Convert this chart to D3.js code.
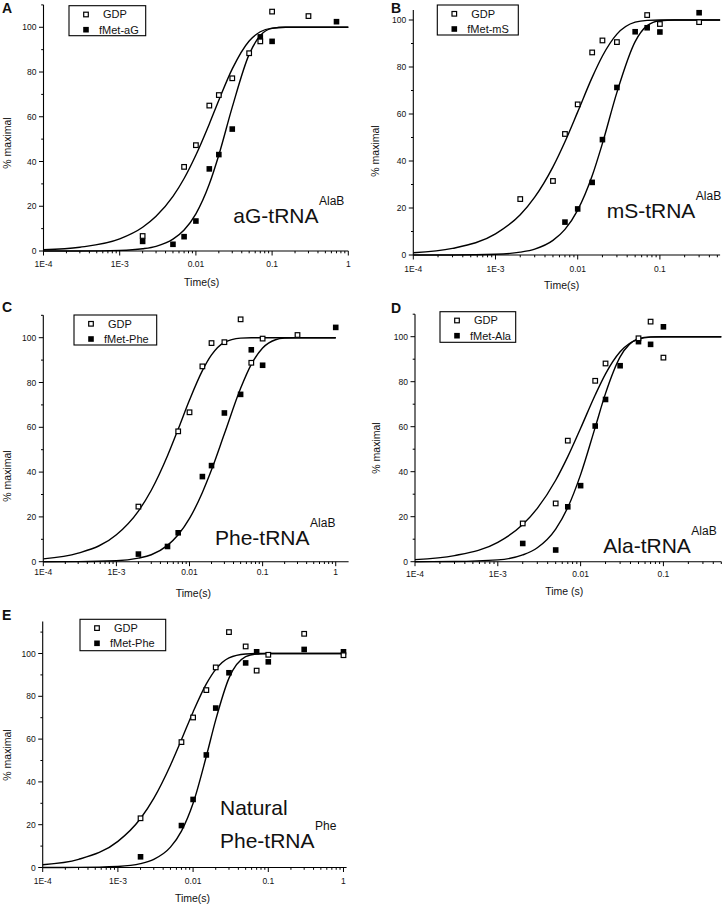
<!DOCTYPE html>
<html><head><meta charset="utf-8">
<script src="https://cdn.jsdelivr.net/npm/d3@7"></script>
<style>body{margin:0;background:#fff}svg{display:block}text{font-family:"Liberation Sans",Arial,sans-serif;fill:#111}</style>
</head><body><svg id="c" width="723" height="905"></svg>
<script>
// ---------- data ----------
const xTickValues = [1e-4, 1e-3, 0.01, 0.1, 1];
const xTickLabels = ["1E-4", "1E-3", "0.01", "0.1", "1"];
const yTickValues = [0, 20, 40, 60, 80, 100];

// Panel A
const gdpTimesA = [0.002, 0.007, 0.01, 0.015, 0.02, 0.03, 0.05, 0.07, 0.1, 0.3];
const gdpValuesA = [6.7, 37.6, 47.3, 65.0, 69.7, 77.2, 88.4, 93.7, 107.0, 105.0];
const fmetTimesA = [0.002, 0.005, 0.007, 0.01, 0.015, 0.02, 0.03, 0.07, 0.1, 0.7];
const fmetValuesA = [4.3, 3.0, 6.4, 13.4, 36.7, 43.1, 54.5, 95.7, 93.7, 102.5];
// Panel B
const gdpTimesB = [0.002, 0.005, 0.007, 0.01, 0.015, 0.02, 0.03, 0.07, 0.1, 0.3];
const gdpValuesB = [23.8, 31.5, 51.5, 64.1, 86.2, 91.3, 90.6, 102.1, 98.3, 99.1];
const fmetTimesB = [0.007, 0.01, 0.015, 0.02, 0.03, 0.05, 0.07, 0.1, 0.3];
const fmetValuesB = [14.0, 19.6, 30.9, 49.1, 71.3, 95.0, 96.7, 94.9, 103.1];
// Panel C
const gdpTimesC = [0.002, 0.007, 0.01, 0.015, 0.02, 0.03, 0.05, 0.07, 0.1, 0.3];
const gdpValuesC = [24.6, 58.2, 66.7, 87.2, 97.6, 98.0, 108.2, 88.8, 99.6, 101.2];
const fmetTimesC = [0.002, 0.005, 0.007, 0.015, 0.02, 0.03, 0.05, 0.07, 0.1, 1];
const fmetValuesC = [3.4, 6.8, 12.9, 38.0, 42.9, 66.4, 74.7, 94.6, 87.7, 104.6];
// Panel D
const gdpTimesD = [0.002, 0.005, 0.007, 0.015, 0.02, 0.05, 0.07, 0.1];
const gdpValuesD = [17.0, 25.9, 53.8, 80.4, 88.1, 99.3, 106.7, 90.7];
const fmetTimesD = [0.002, 0.005, 0.007, 0.01, 0.015, 0.02, 0.03, 0.05, 0.07, 0.1];
const fmetValuesD = [8.1, 5.2, 24.4, 33.8, 60.3, 72.1, 87.1, 97.8, 96.6, 104.4];
// Panel E
const gdpTimesE = [0.002, 0.007, 0.01, 0.015, 0.02, 0.03, 0.05, 0.07, 0.1, 0.3, 1];
const gdpValuesE = [23.0, 58.6, 70.1, 82.9, 93.5, 110.0, 103.3, 92.0, 99.4, 109.2, 99.2];
const fmetTimesE = [0.002, 0.007, 0.01, 0.015, 0.02, 0.03, 0.05, 0.07, 0.1, 0.3, 1];
const fmetValuesE = [5.0, 19.6, 31.8, 52.6, 74.5, 91.0, 95.6, 100.8, 96.1, 101.9, 100.8];

// fitted curves at these times
const fitTimes = [1e-4, 3e-4, 1e-3, 2e-3, 3e-3, 5e-3, 7e-3, 0.01, 0.015, 0.02, 0.03, 0.05, 0.07, 0.1, 0.15, 0.2, 0.3];
const fitGdpA  = [0.56, 1.67, 5.4, 10.6, 15.5, 24.4, 32.4, 42.9, 56.8, 67.4, 81.4, 93.9, 98.0, 99.6, 100, 100, 100];
const fitFmetA = [0, 0.02, 0.26, 1.0, 2.1, 5.3, 9.4, 16.6, 29.9, 42.9, 64.3, 87.9, 96.3, 99.5, 100, 100, 100];
const fitGdpB  = [0.94, 2.8, 9.0, 17.1, 24.6, 37.5, 48.2, 60.9, 75.6, 84.7, 94.0, 99.1, 99.86, 100, 100, 100, 100];
const fitFmetB = [0, 0.03, 0.3, 1.2, 2.5, 6.2, 10.9, 19.1, 33.7, 47.5, 69.2, 90.8, 97.6, 99.7, 100, 100, 100];
const fitGdpC  = [1.27, 3.8, 12.0, 22.6, 31.9, 47.3, 59.2, 72.2, 85.3, 92.3, 97.9, 99.8, 100, 100, 100, 100, 100];
const fitFmetC = [0, 0.04, 0.4, 1.6, 3.1, 7.3, 12.0, 19.3, 30.9, 41.0, 57.1, 77.4, 88.1, 95.4, 99.1, 99.8, 100];
const fitGdpD  = [0.9, 2.7, 8.6, 16.5, 23.7, 36.2, 46.7, 59.3, 74.1, 83.5, 93.3, 98.9, 99.8, 100, 100, 100, 100];
const fitFmetD = [0, 0.08, 0.8, 3.0, 6.2, 14.5, 24.1, 38.7, 59.7, 74.8, 91.0, 99.1, 99.9, 100, 100, 100, 100];
const fitGdpE  = [1.29, 3.8, 12.2, 22.9, 32.3, 47.8, 59.7, 72.7, 85.8, 92.6, 98.0, 99.8, 100, 100, 100, 100, 100];
const fitFmetE = [0, 0.05, 0.5, 1.8, 3.8, 9.5, 17, 30, 52, 69, 88.5, 98.5, 99.8, 100, 100, 100, 100];

const legendNames = {A: "fMet-aG", B: "fMet-mS", C: "fMet-Phe", D: "fMet-Ala", E: "fMet-Phe"};

// ---------- layout ----------
const panels = [
  {id:"A", gT:gdpTimesA, gV:gdpValuesA, fT:fmetTimesA, fV:fmetValuesA, cg:fitGdpA, cf:fitFmetA, fitEnd:1,
   xr:[43.5,348.3], xMax:1, yr:[251,4.9], yMax:110, tickDy:16.3, xlab:"Time(s)", xlabPos:[201.7,285.5], ylabPos:[11,143],
   letter:[2,13], box:[69,5.7,76.7,30], lines:[["aG-tRNA",233.3,223.3]], sup:"AlaB"},
  {id:"B", gT:gdpTimesB, gV:gdpValuesB, fT:fmetTimesB, fV:fmetValuesB, cg:fitGdpB, cf:fitFmetB, fitEnd:0.54,
   xr:[413.3,720.1], xMax:0.54, yr:[255,9.9], yMax:104.3, tickDy:17.3, xlab:"Time(s)", xlabPos:[561.7,289], ylabPos:[378.5,151],
   letter:[391,13], box:[437.3,5,81,30], lines:[["mS-tRNA",606.7,218.3]], sup:"AlaB"},
  {id:"C", gT:gdpTimesC, gV:gdpValuesC, fT:fmetTimesC, fV:fmetValuesC, cg:fitGdpC, cf:fitFmetC, fitEnd:1,
   xr:[43.3,348.6], xMax:1.5, yr:[561.7,315.3], yMax:110, tickDy:13.3, xlab:"Time(s)", xlabPos:[193.3,596.5], ylabPos:[10.5,476],
   letter:[2,312], box:[74,315,82.7,30], lines:[["Phe-tRNA",215,545]], sup:"AlaB"},
  {id:"D", gT:gdpTimesD, gV:gdpValuesD, fT:fmetTimesD, fV:fmetValuesD, cg:fitGdpD, cf:fitFmetD, fitEnd:0.5,
   xr:[415,721.3], xMax:0.5, yr:[561.7,314.2], yMax:110, tickDy:15.6, xlab:"Time (s)", xlabPos:[564.2,594.5], ylabPos:[380,448],
   letter:[391,313], box:[440,311.7,75.7,30.6], lines:[["Ala-tRNA",603.3,553.3]], sup:"AlaB"},
  {id:"E", gT:gdpTimesE, gV:gdpValuesE, fT:fmetTimesE, fV:fmetValuesE, cg:fitGdpE, cf:fitFmetE, fitEnd:1,
   xr:[42.7,346.6], xMax:1.1, yr:[867.5,621.4], yMax:115, tickDy:16.3, xlab:"Time(s)", xlabPos:[192.5,901.8], ylabPos:[10.5,755],
   letter:[2,620], box:[80,619.3,85.7,31.4], lines:[["Natural",220,815],["Phe-tRNA",220,848.3]], sup:"Phe"}
];

const svg = d3.select("#c");
const MS = 5.6;

panels.forEach(p => {
  const g = svg.append("g");
  const x = d3.scaleLog().domain([1e-4, p.xMax]).range(p.xr);
  const y = d3.scaleLinear().domain([0, p.yMax]).range(p.yr);
  const X0 = p.xr[0], Y0 = p.yr[0];

  // x axis
  g.append("line").attr("x1", X0).attr("x2", p.xr[1]).attr("y1", Y0).attr("y2", Y0)
    .attr("stroke", "#000").attr("stroke-width", 1.1);
  const minors = [];
  for (let d = -4; d <= 0; d++) for (let m = 2; m <= 9; m++) {
    const v = m * Math.pow(10, d);
    if (v <= p.xMax * 1.001) minors.push(v);
  }
  g.selectAll(null).data(minors).enter().append("line")
    .attr("x1", d => x(d)).attr("x2", d => x(d)).attr("y1", Y0).attr("y2", Y0 + 2.3)
    .attr("stroke", "#000").attr("stroke-width", 1);
  const majors = xTickValues.map((v, i) => ({v, l: xTickLabels[i]})).filter(d => d.v <= p.xMax * 1.001);
  g.selectAll(null).data(majors).enter().append("line")
    .attr("x1", d => x(d.v)).attr("x2", d => x(d.v)).attr("y1", Y0).attr("y2", Y0 + 4.5)
    .attr("stroke", "#000").attr("stroke-width", 1);
  g.selectAll(null).data(majors).enter().append("text")
    .attr("x", d => x(d.v)).attr("y", Y0 + p.tickDy).attr("text-anchor", "middle")
    .attr("font-size", 8.5).text(d => d.l);
  g.append("text").attr("x", p.xlabPos[0]).attr("y", p.xlabPos[1]).attr("text-anchor", "middle")
    .attr("font-size", 10.5).text(p.xlab);

  // y axis
  g.append("line").attr("x1", X0).attr("x2", X0).attr("y1", Y0).attr("y2", p.yr[1])
    .attr("stroke", "#000").attr("stroke-width", 1.1);
  const yMinor = d3.range(10, p.yMax + 0.01, 20);
  g.selectAll(null).data(yMinor).enter().append("line")
    .attr("x1", X0 - 2.3).attr("x2", X0).attr("y1", d => y(d)).attr("y2", d => y(d))
    .attr("stroke", "#000").attr("stroke-width", 1);
  g.selectAll(null).data(yTickValues).enter().append("line")
    .attr("x1", X0 - 4.5).attr("x2", X0).attr("y1", d => y(d)).attr("y2", d => y(d))
    .attr("stroke", "#000").attr("stroke-width", 1);
  g.selectAll(null).data(yTickValues).enter().append("text")
    .attr("x", X0 - 7).attr("y", d => y(d) + 3).attr("text-anchor", "end")
    .attr("font-size", 8.5).text(d => d);
  g.append("text").attr("transform", `translate(${p.ylabPos[0]},${p.ylabPos[1]}) rotate(-90)`)
    .attr("text-anchor", "middle").attr("font-size", 10.5).text("% maximal");

  // fit curves
  const line = d3.line().x(d => x(d[0])).y(d => y(d[1])).curve(d3.curveMonotoneX);
  [p.cg, p.cf].forEach(vals => {
    const pts = fitTimes.map((t, i) => [t, vals[i]]).filter(d => d[0] < p.fitEnd);
    pts.push([p.fitEnd, 100]);
    g.append("path").attr("d", line(pts)).attr("fill", "none")
      .attr("stroke", "#000").attr("stroke-width", 1.4);
  });

  // points
  g.selectAll(null).data(p.fT.map((t, i) => [t, p.fV[i]])).enter().append("rect")
    .attr("x", d => x(d[0]) - MS / 2).attr("y", d => y(d[1]) - MS / 2)
    .attr("width", MS).attr("height", MS).attr("fill", "#000");
  g.selectAll(null).data(p.gT.map((t, i) => [t, p.gV[i]])).enter().append("rect")
    .attr("x", d => x(d[0]) - (MS - 1) / 2).attr("y", d => y(d[1]) - (MS - 1) / 2)
    .attr("width", MS - 1).attr("height", MS - 1).attr("fill", "#fff")
    .attr("stroke", "#000").attr("stroke-width", 1.2);

  // legend
  const [bx, by, bw, bh] = p.box;
  g.append("rect").attr("x", bx).attr("y", by).attr("width", bw).attr("height", bh)
    .attr("fill", "#fff").attr("stroke", "#000").attr("stroke-width", 1.1);
  g.append("rect").attr("x", bx + 17 - (MS - 1) / 2).attr("y", by + 8.8 - (MS - 1) / 2)
    .attr("width", MS - 1).attr("height", MS - 1).attr("fill", "#fff").attr("stroke", "#000").attr("stroke-width", 1.2);
  g.append("rect").attr("x", bx + 17 - MS / 2).attr("y", by + 24 - MS / 2)
    .attr("width", MS).attr("height", MS).attr("fill", "#000");
  g.append("text").attr("x", bx + 34).attr("y", by + 12.6).attr("font-size", 11).text("GDP");
  g.append("text").attr("x", bx + 30).attr("y", by + 27.8).attr("font-size", 11).text(legendNames[p.id]);

  // panel letter
  g.append("text").attr("x", p.letter[0]).attr("y", p.letter[1]).attr("font-size", 14)
    .attr("font-weight", "bold").text(p.id);

  // annotation
  let lastEnd = 0, lastY = 0;
  p.lines.forEach(([txt, tx, ty]) => {
    const t = g.append("text").attr("x", tx).attr("y", ty).attr("font-size", 21).text(txt);
    lastEnd = tx + t.node().getComputedTextLength(); lastY = ty;
  });
  g.append("text").attr("x", lastEnd + 0.5).attr("y", lastY - 18.5).attr("font-size", 12).text(p.sup);
});
</script></body></html>
